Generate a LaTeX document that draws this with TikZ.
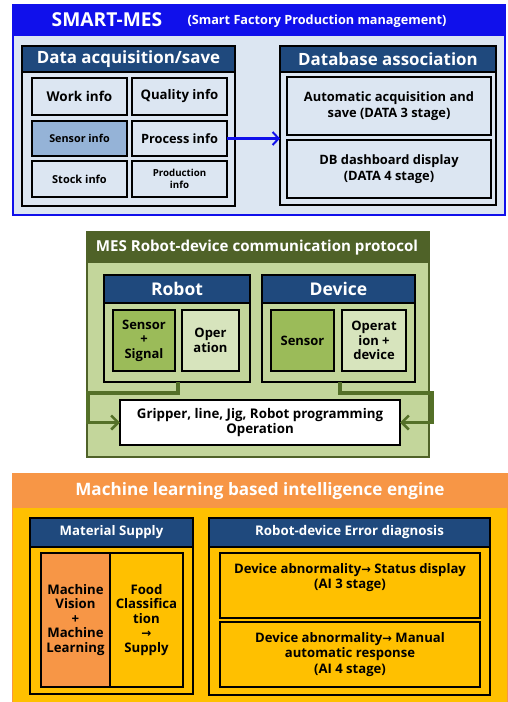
\documentclass[tikz,border=0pt]{standalone}
\usepackage{fontspec}
\setmainfont{Open Sans}
\newfontfamily\arr{DejaVu Sans}
\usetikzlibrary{arrows.meta}
\definecolor{mesblue}{RGB}{16,16,235}
\definecolor{lightbg}{RGB}{220,230,242}
\definecolor{navy}{RGB}{31,73,125}
\definecolor{sensblue}{RGB}{149,179,215}
\definecolor{dgreen}{RGB}{79,98,40}
\definecolor{mgreen}{RGB}{195,214,155}
\definecolor{sgreen}{RGB}{155,187,89}
\definecolor{pgreen}{RGB}{215,228,189}
\definecolor{connGreen}{RGB}{84,112,40}
\definecolor{orangec}{RGB}{247,150,70}
\definecolor{yellowc}{RGB}{255,192,0}
\tikzset{
  blk/.style={anchor=north west, inner sep=0pt, outer sep=0pt},
  cell/.style={blk, draw=black, line width=1.8pt, align=center, font=\bfseries},
  hdr/.style={blk, draw=black, line width=1.8pt, fill=navy, text=white, font=\bfseries},
  gconn/.style={draw=connGreen, line width=3.5pt, -{Straight Barb[length=7pt,width=14pt,line width=2.5pt]}},
  txt/.style={inner sep=0pt, align=center, font=\bfseries},
}
\begin{document}
\begin{tikzpicture}[x=1pt,y=-1pt]
\useasboundingbox (0,0) rectangle (508,702);
\fill[white] (0,0) rectangle (508,702);
% ===== TOP =====
\node[blk, draw=mesblue, line width=2pt, fill=lightbg, minimum width=492pt, minimum height=210pt] (topframe) at (13,5) {};
\node[blk, fill=mesblue, minimum width=494pt, minimum height=32pt] (toptitle) at (12,4) {};
\node[txt, text=white, font=\bfseries\fontsize{19.2}{22}\selectfont] (smt) at (107,20) {SMART-MES};
\node[txt, text=white, font=\bfseries\fontsize{12.7}{15}\selectfont] (smtsub) at (317,21) {(Smart Factory Production management)};
% data acquisition
\node[cell, fill=lightbg, minimum width=213pt, minimum height=160pt] (daq) at (22,46) {};
\node[hdr, minimum width=213pt, minimum height=26pt, font=\bfseries\fontsize{16.9}{19}\selectfont] (daqh) at (22,46) {Data acquisition/save};
\node[cell, fill=lightbg, minimum width=95pt, minimum height=37pt, font=\bfseries\fontsize{13.5}{15}\selectfont] (work) at (32,78) {Work info};
\node[cell, fill=lightbg, minimum width=95pt, minimum height=37pt, font=\bfseries\fontsize{13.2}{15}\selectfont] (qual) at (132,78) {Quality info};
\node[cell, fill=sensblue, minimum width=95pt, minimum height=35pt, font=\bfseries\fontsize{10.8}{12}\selectfont] (sens) at (32,121) {Sensor info};
\node[cell, fill=lightbg, minimum width=95pt, minimum height=35pt, font=\bfseries\fontsize{12.8}{15}\selectfont] (proc) at (132,121) {Process info};
\node[cell, fill=lightbg, minimum width=95pt, minimum height=36pt, font=\bfseries\fontsize{11}{12}\selectfont] (stock) at (32,161) {Stock info};
\node[cell, fill=lightbg, minimum width=95pt, minimum height=36pt, font=\bfseries\fontsize{9.7}{12.5}\selectfont] (prod) at (132,161) {Production\\info};
% database association
\node[cell, fill=lightbg, minimum width=216pt, minimum height=159pt] (dba) at (280,46) {};
\node[hdr, minimum width=216pt, minimum height=26pt, font=\bfseries\fontsize{16.9}{19}\selectfont] (dbah) at (280,46) {Database association};
\node[cell, fill=lightbg, minimum width=204pt, minimum height=58pt, font=\bfseries\fontsize{12.9}{15.5}\selectfont] (auto) at (287,77) {Automatic acquisition and\\save (DATA 3 stage)};
\node[cell, fill=lightbg, minimum width=204pt, minimum height=58pt, font=\bfseries\fontsize{12.9}{15.5}\selectfont] (dash) at (287,140) {DB dashboard display\\(DATA 4 stage)};
\draw[mesblue, line width=2.2pt, -{Straight Barb[length=6pt,width=13pt,line width=2pt]}] (proc.east) -- (proc.east -| dba.west);
% ===== MIDDLE =====
\node[blk, fill=mgreen, draw=dgreen, line width=2pt, minimum width=342pt, minimum height=225pt] (midframe) at (87,232) {};
\node[blk, fill=dgreen, minimum width=342pt, minimum height=31pt] (midtitle) at (87,232) {};
\node[txt, text=white, font=\bfseries\fontsize{15.1}{17}\selectfont] (midt) at (257,248) {MES Robot-device communication protocol};
\node[cell, fill=mgreen, minimum width=146pt, minimum height=107pt] (robot) at (104,275) {};
\node[hdr, minimum width=146pt, minimum height=28pt, font=\bfseries\fontsize{17.5}{19}\selectfont] (roboth) at (104,275) {Robot};
\node[cell, fill=sgreen, minimum width=62pt, minimum height=61pt, font=\bfseries\fontsize{13}{14.5}\selectfont] (rsens) at (113,310) {Sensor\\+\\Signal};
\node[cell, fill=pgreen, minimum width=57pt, minimum height=61pt, font=\bfseries\fontsize{13}{14.5}\selectfont] (rop) at (182,310) {Oper\\ation};
\node[cell, fill=mgreen, minimum width=153pt, minimum height=107pt] (device) at (262,275) {};
\node[hdr, minimum width=153pt, minimum height=28pt, font=\bfseries\fontsize{17.5}{19}\selectfont] (deviceh) at (262,275) {Device};
\node[cell, fill=sgreen, minimum width=63pt, minimum height=61pt, font=\bfseries\fontsize{13}{14.5}\selectfont] (dsens) at (271,310) {Sensor};
\node[cell, fill=pgreen, minimum width=64pt, minimum height=61pt, font=\bfseries\fontsize{13}{14.5}\selectfont] (dop) at (342,310) {Operat\\ion +\\device};
\node[cell, fill=white, minimum width=280pt, minimum height=45pt, font=\bfseries\fontsize{13.3}{15}\selectfont] (grip) at (120,400) {Gripper, line, Jig, Robot programming\\Operation};
\coordinate (rl) at (178,382);
\coordinate (dl) at (340,382);
\draw[gconn] (rl) -- (178,393) -- (88,393) -- (88,422.5) -- (grip.west);
\draw[gconn] (dl) -- (340,393) -- (432,393) -- (432,422.5) -- (grip.east);
% ===== BOTTOM =====
\node[blk, fill=yellowc, draw=orangec, line width=1pt, minimum width=495pt, minimum height=230pt] (botframe) at (12,473) {};
\node[blk, fill=orangec, minimum width=495pt, minimum height=35pt] (bottitle) at (12,473) {};
\node[txt, text=white, font=\bfseries\fontsize{17.1}{19}\selectfont] (bott) at (260,491) {Machine learning based intelligence engine};
\node[cell, fill=yellowc, minimum width=163pt, minimum height=176pt] (mat) at (30,518) {};
\node[hdr, minimum width=163pt, minimum height=29pt, font=\bfseries\fontsize{13.2}{15}\selectfont] (math) at (30,518) {Material Supply};
\node[cell, fill=orangec, minimum width=69pt, minimum height=134pt, font=\bfseries\fontsize{13.2}{14.5}\selectfont] (mv) at (41,553) {Machine\\Vision\\+\\Machine\\Learning};
\node[cell, fill=yellowc, minimum width=73pt, minimum height=134pt, font=\bfseries\fontsize{13.2}{14.5}\selectfont] (food) at (110,553) {Food\\Classifica\\tion\\{\arr\fontsize{12}{14.5}\selectfont →}\\Supply};
\node[cell, fill=yellowc, minimum width=281pt, minimum height=177pt] (err) at (209,518) {};
\node[hdr, minimum width=281pt, minimum height=29pt, font=\bfseries\fontsize{13.3}{15}\selectfont] (errh) at (209,518) {Robot-device Error diagnosis};
\node[cell, fill=yellowc, minimum width=260pt, minimum height=65pt] (ai3) at (220,553) {};
\node[txt, font=\bfseries\fontsize{13.1}{15.5}\selectfont, anchor=north] (ai3t) at (350,563) {Device abnormality{\arr\fontsize{11.5}{15}\selectfont →} Status display\\(AI 3 stage)};
\node[cell, fill=yellowc, minimum width=260pt, minimum height=65pt, font=\bfseries\fontsize{13.1}{15.5}\selectfont] (ai4) at (220,622) {Device abnormality{\arr\fontsize{11.5}{15}\selectfont →} Manual\\automatic response\\(AI 4 stage)};
\end{tikzpicture}
\end{document}
